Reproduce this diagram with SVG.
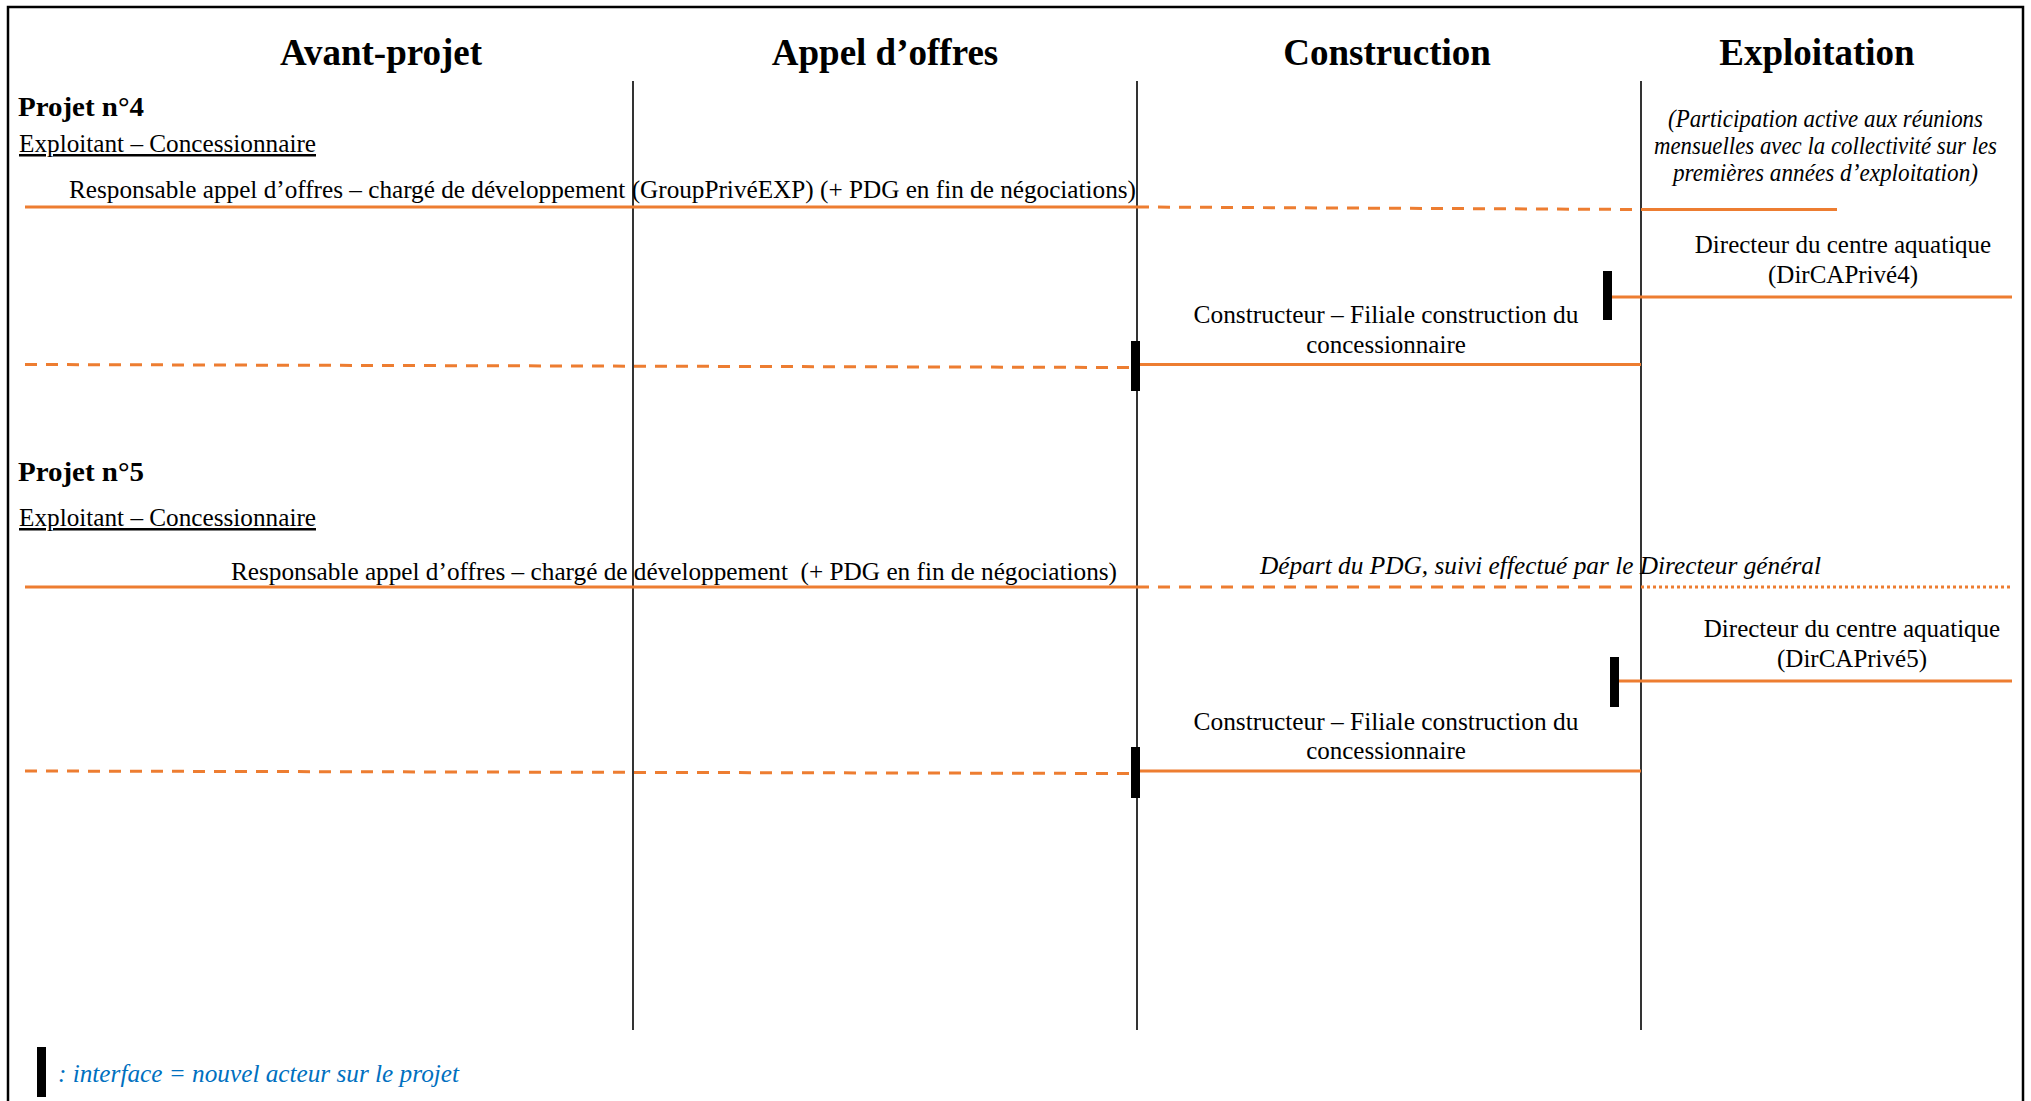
<svg xmlns="http://www.w3.org/2000/svg" width="2031" height="1101" viewBox="0 0 2031 1101">
<style>
text{font-family:"Liberation Serif","Times New Roman",serif;fill:#000}
.h{font-size:37px;font-weight:bold;text-anchor:middle}
.p{font-size:28px;font-weight:bold}
.u{font-size:25px;text-decoration:underline}
.t{font-size:25px}
.c{text-anchor:middle}
.i{font-style:italic}
.leg{font-size:25px;font-style:italic;fill:#0070C0}
.div{stroke:#000;stroke-width:1.6;fill:none}
.o{stroke:#ED7D31;stroke-width:3;fill:none}
.d{stroke-dasharray:12 9}
.dot{stroke-dasharray:3 3}
.bar{fill:#000}
</style>
<rect x="0" y="0" width="2031" height="1101" fill="#fff"/>
<rect x="8" y="7" width="2015" height="1110" fill="none" stroke="#000" stroke-width="2.5"/>
<g id="dividers">
<line class="div" x1="633" y1="81" x2="633" y2="1030"/>
<line class="div" x1="1137" y1="81" x2="1137" y2="1030"/>
<line class="div" x1="1641" y1="81" x2="1641" y2="1030"/>
</g>
<g id="headers">
<text class="h" x="381" y="65">Avant-projet</text>
<text class="h" x="885" y="65">Appel d’offres</text>
<text class="h" x="1387" y="65">Construction</text>
<text class="h" x="1817" y="65">Exploitation</text>
</g>
<g id="connectors">
<line class="o" x1="25" y1="207" x2="1137" y2="207"/>
<line class="o d" x1="1137" y1="207" x2="1641" y2="209.5"/>
<line class="o" x1="1641" y1="209.5" x2="1837" y2="209.5"/>
<line class="o d" x1="25" y1="364.5" x2="1130" y2="367.5"/>
<line class="o" x1="1139" y1="364.5" x2="1641" y2="364.5"/>
<line class="o" x1="1612" y1="297" x2="2012" y2="297"/>
<line class="o" x1="25" y1="587" x2="1137" y2="587"/>
<line class="o d" x1="1137" y1="587" x2="1641" y2="587"/>
<line class="o dot" x1="1641" y1="587" x2="2010" y2="587"/>
<line class="o" x1="1619" y1="681" x2="2012" y2="681"/>
<line class="o d" x1="25" y1="771" x2="1130" y2="773.5"/>
<line class="o" x1="1139" y1="771" x2="1641" y2="771"/>
</g>
<g id="projet4">
<text class="p" x="18" y="116" textLength="126" lengthAdjust="spacingAndGlyphs">Projet n°4</text>
<text class="u" x="19" y="152" textLength="297" lengthAdjust="spacingAndGlyphs">Exploitant – Concessionnaire</text>
</g>
<g id="p4-responsable">
<text class="t" x="69" y="198" textLength="1067" lengthAdjust="spacingAndGlyphs">Responsable appel d’offres – chargé de développement (GroupPrivéEXP) (+ PDG en fin de négociations)</text>
</g>
<g id="p4-participation">
<text class="t i" x="1668" y="127" textLength="315" lengthAdjust="spacingAndGlyphs">(Participation active aux réunions</text>
<text class="t i" x="1654" y="154" textLength="343" lengthAdjust="spacingAndGlyphs">mensuelles avec la collectivité sur les</text>
<text class="t i" x="1673" y="181" textLength="305" lengthAdjust="spacingAndGlyphs">premières années d’exploitation)</text>
</g>
<g id="p4-directeur">
<rect class="bar" x="1603" y="271" width="9" height="49"/>
<text class="t c" x="1843" y="253">Directeur du centre aquatique</text>
<text class="t c" x="1843" y="283">(DirCAPrivé4)</text>
</g>
<g id="p4-constructeur">
<rect class="bar" x="1131" y="341" width="9" height="50"/>
<text class="t c" x="1386" y="323" textLength="385" lengthAdjust="spacingAndGlyphs">Constructeur – Filiale construction du</text>
<text class="t c" x="1386" y="353">concessionnaire</text>
</g>
<g id="projet5">
<text class="p" x="18" y="481" textLength="126" lengthAdjust="spacingAndGlyphs">Projet n°5</text>
<text class="u" x="19" y="526" textLength="297" lengthAdjust="spacingAndGlyphs">Exploitant – Concessionnaire</text>
</g>
<g id="p5-responsable">
<text class="t" x="231" y="580" textLength="886" lengthAdjust="spacingAndGlyphs" xml:space="preserve">Responsable appel d’offres – chargé de développement  (+ PDG en fin de négociations)</text>
</g>
<g id="p5-depart">
<text class="t i" x="1260" y="574" textLength="561" lengthAdjust="spacingAndGlyphs">Départ du PDG, suivi effectué par le Directeur général</text>
</g>
<g id="p5-directeur">
<rect class="bar" x="1610" y="657" width="9" height="50"/>
<text class="t c" x="1852" y="637">Directeur du centre aquatique</text>
<text class="t c" x="1852" y="667">(DirCAPrivé5)</text>
</g>
<g id="p5-constructeur">
<rect class="bar" x="1131" y="747" width="9" height="51"/>
<text class="t c" x="1386" y="730" textLength="385" lengthAdjust="spacingAndGlyphs">Constructeur – Filiale construction du</text>
<text class="t c" x="1386" y="759">concessionnaire</text>
</g>
<g id="legend">
<rect class="bar" x="37" y="1047" width="9" height="50"/>
<text class="leg" x="58" y="1082" textLength="401" lengthAdjust="spacingAndGlyphs">: interface = nouvel acteur sur le projet</text>
</g>
</svg>
